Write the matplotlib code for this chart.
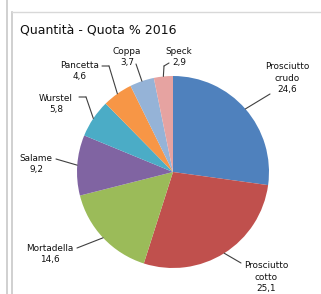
import matplotlib
matplotlib.use("Agg")
import matplotlib.pyplot as plt
from matplotlib.lines import Line2D
import numpy as np

# ---- data ----
categories = ["Prosciutto\ncrudo", "Prosciutto\ncotto", "Mortadella", "Salame",
              "Wurstel", "Pancetta", "Coppa", "Speck"]
values = [24.6, 25.1, 14.6, 9.2, 5.8, 4.6, 3.7, 2.9]
value_labels = ["24,6", "25,1", "14,6", "9,2", "5,8", "4,6", "3,7", "2,9"]
title = "Quantità - Quota % 2016"

# ---- style / layout ----
colors = ["#4F81BD", "#C0504D", "#9BBB59", "#8064A2",
          "#4BACC6", "#F79646", "#95B3D7", "#E6A3A1"]
W, H = 321, 294
# label block centres (image pixel coords, y down)
label_pos = [(287, 78), (266, 277), (50, 254), (36, 164),
             (56, 104), (80, 71), (127, 57), (179, 57)]
# leader start points and optional elbows (image pixel coords)
leader_start = [(270, 94), (241, 263), (77, 248), (56, 159),
                 (79, 97), (102, 66), (136, 64), (169, 63)]
leader_elbow = [None, None, None, None, (86, 97), (109, 66), None, (164, 66)]

fig = plt.figure(figsize=(W / 100, H / 100), dpi=100)
fig.patch.set_facecolor("white")

cx, cy, r = 173, 172, 96
ax = fig.add_axes([(cx - r) / W, 1 - (cy + r) / H, 2 * r / W, 2 * r / H])
wedges, _ = ax.pie(values, colors=colors, startangle=90, counterclock=False,
                   radius=1.0, wedgeprops=dict(linewidth=0))
ax.set_xlim(-1, 1)
ax.set_ylim(-1, 1)
ax.set_aspect("equal")
ax.axis("off")

def px(p):
    return (p[0], H - p[1])

for w, cat, vl, lp, ls, le in zip(wedges, categories, value_labels,
                                  label_pos, leader_start, leader_elbow):
    mid = np.deg2rad((w.theta1 + w.theta2) / 2)
    tip = (np.cos(mid), np.sin(mid))
    fig.text(lp[0] / W, 1 - lp[1] / H, cat + "\n" + vl, ha="center", va="center",
             fontsize=6.4, color="#111111", linespacing=1.3,
             family="DejaVu Sans")
    start = ls
    if le is not None:
        ax.annotate("", xy=px(le), xycoords="figure pixels",
                    xytext=px(ls), textcoords="figure pixels",
                    arrowprops=dict(arrowstyle="-", color="#404040", lw=0.8,
                                    shrinkA=0, shrinkB=0))
        start = le
    ax.annotate("", xy=tip, xycoords="data",
                xytext=px(start), textcoords="figure pixels",
                arrowprops=dict(arrowstyle="-", color="#404040", lw=0.8,
                                shrinkA=0, shrinkB=0))

fig.text(20 / W, 1 - 30 / H, title, ha="left", va="center", fontsize=9,
         color="#111111", family="DejaVu Sans")

# panel frame lines
fig.add_artist(Line2D([7 / W, 7 / W], [0, 1], transform=fig.transFigure,
                      color="#c8c8c8", lw=1.2))
fig.add_artist(Line2D([12 / W, 12 / W], [0, 1 - 12 / H], transform=fig.transFigure,
                      color="#c8c8c8", lw=1.2))
fig.add_artist(Line2D([12 / W, 1], [1 - 12 / H, 1 - 12 / H], transform=fig.transFigure,
                      color="#d8d8d8", lw=1.0))

fig.savefig("out.png", dpi=100, facecolor="white")
